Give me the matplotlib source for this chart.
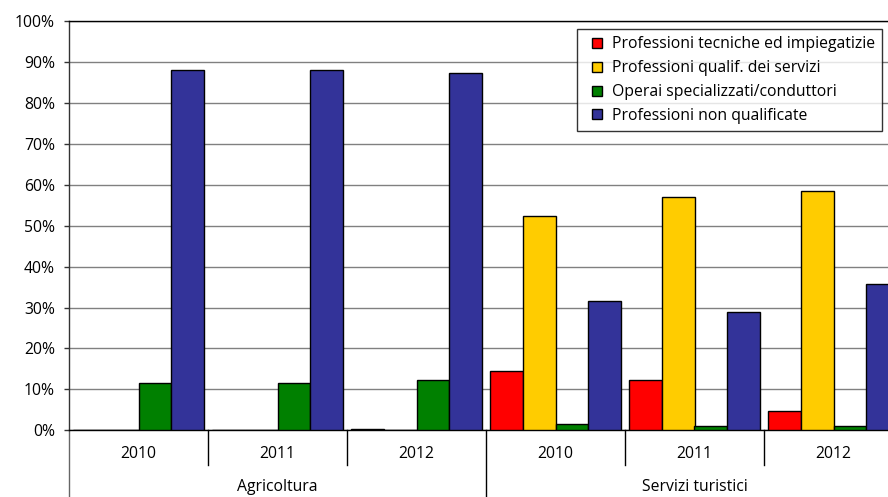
import matplotlib
matplotlib.use("Agg")
import matplotlib.pyplot as plt
import matplotlib.transforms as mtransforms
from matplotlib.lines import Line2D
from matplotlib.ticker import FuncFormatter
import numpy as np

plt.rcParams['font.family'] = ['Open Sans', 'DejaVu Sans']

# Sector / year categories
sectors = ["Agricoltura", "Servizi turistici"]
years = ["2010", "2011", "2012"]

# Share of hires by professional group (%)
series_names = [
    "Professioni tecniche ed impiegatizie",
    "Professioni qualif. dei servizi",
    "Operai specializzati/conduttori",
    "Professioni non qualificate",
]
tecniche = [0.0, 0.0, 0.3, 14.4, 12.4, 4.6]
qualif_servizi = [0.0, 0.0, 0.0, 52.4, 57.0, 58.5]
operai = [11.6, 11.6, 12.4, 1.5, 1.1, 1.1]
non_qualificate = [88.1, 88.1, 87.3, 31.7, 29.0, 35.7]
series_colors = ["#FF0000", "#FFCC00", "#008000", "#333399"]

FS = 11.3

W, H = 888, 497
fig = plt.figure(figsize=(W / 100, H / 100), dpi=100)
fig.patch.set_facecolor("white")

x0, x_right, y_top, y_zero = 69, 903, 21, 430.3
ax = fig.add_axes([x0 / W, (H - y_zero) / H, (x_right - x0) / W, (y_zero - y_top) / H])

n_groups = len(sectors) * len(years)
x = np.arange(n_groups)
bar_w = 0.2374
all_series = [tecniche, qualif_servizi, operai, non_qualificate]
for k, (vals, col) in enumerate(zip(all_series, series_colors)):
    ax.bar(x + (k - 1.5) * bar_w, vals, width=bar_w, color=col,
           edgecolor="black", linewidth=1.0, zorder=3)

ax.set_xlim(-0.5, n_groups - 0.5)
ax.set_ylim(0, 100)
ax.set_yticks(np.arange(0, 101, 10))
ax.yaxis.set_major_formatter(FuncFormatter(lambda v, p: f"{v:.0f}%"))
ax.tick_params(axis="y", direction="out", length=3.5, width=1, color="#333333",
               labelsize=FS, pad=6.5, labelcolor="black")
ax.set_xticks([])
ax.grid(axis="y", color="#808080", linewidth=1.0, zorder=0)
ax.set_axisbelow(True)

for side in ("top", "bottom"):
    ax.spines[side].set_color("black")
    ax.spines[side].set_linewidth(1.0)
ax.spines["left"].set_color("#333333")
ax.spines["left"].set_linewidth(1.0)
ax.spines["right"].set_visible(False)

# Two-level category axis
trans = mtransforms.blended_transform_factory(ax.transData, ax.transAxes)
px = 1.0 / (y_zero - y_top)
year_y = -(454 - y_zero) * px
sector_y = -(487 - y_zero) * px
short_tick = -(465 - y_zero) * px
long_tick = -(H - y_zero) * px

for i in range(n_groups):
    ax.text(i, year_y, years[i % len(years)], transform=trans,
            ha="center", va="center", fontsize=FS)
for s, name in enumerate(sectors):
    center = s * len(years) + (len(years) - 1) / 2
    ax.text(center, sector_y, name, transform=trans,
            ha="center", va="center", fontsize=FS)

for b in np.arange(0.5, n_groups - 0.5, 1.0):
    bottom = long_tick if np.isclose(b % len(years), 2.5) else short_tick
    ax.add_line(Line2D([b, b], [0, bottom], transform=trans, color="black",
                       linewidth=1.0, clip_on=False))
ax.add_line(Line2D([-0.5, -0.5], [0, long_tick], transform=trans, color="#666666",
                   linewidth=1.0, clip_on=False))

# Legend with small square swatches
handles = [Line2D([], [], linestyle="none", marker="s", markersize=6.5,
                  markerfacecolor=c, markeredgecolor="black", markeredgewidth=1.0)
           for c in series_colors]
leg = fig.legend(handles, series_names, loc="upper left",
                 bbox_to_anchor=(577.3 / W, 1 - 29.3 / H),
                 bbox_transform=fig.transFigure,
                 fontsize=FS, frameon=True, fancybox=False, shadow=False,
                 handlelength=1.66, handleheight=0.7, handletextpad=0.08,
                 labelspacing=0.5, borderpad=0.45, borderaxespad=0)
leg.get_frame().set_edgecolor("black")
leg.get_frame().set_linewidth(1.0)

fig.savefig("out.png", dpi=100, facecolor="white")
